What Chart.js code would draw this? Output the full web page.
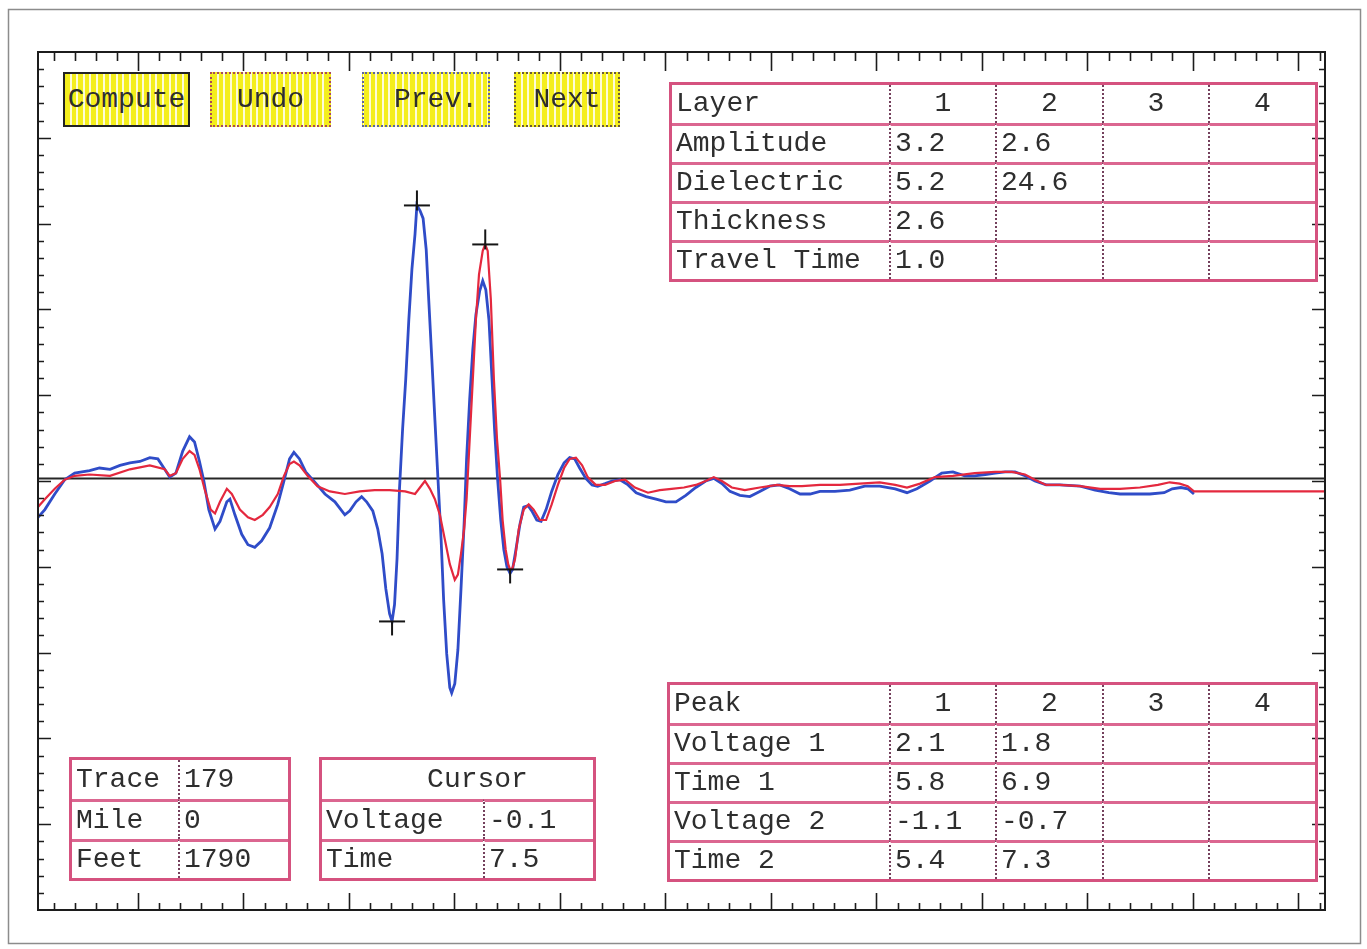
<!DOCTYPE html>
<html>
<head>
<meta charset="utf-8">
<title>Waveform analysis – Trace 179</title>
<script src="https://cdn.jsdelivr.net/npm/chart.js@4.4.1/dist/chart.umd.min.js"></script>
<style>
  html, body { margin: 0; padding: 0; background: #fff; }
  #wrap { position: relative; width: 1367px; height: 949px; overflow: hidden; }
  #plot { position: absolute; left: 0; top: 0; }
  .mono { font-family: "Liberation Mono", "DejaVu Sans Mono", monospace; font-size: 28px; color: #2e2e2e; }
  .btn {
    position: absolute; box-sizing: border-box; height: 55px; top: 72px;
    line-height: 51px; text-align: center; white-space: nowrap;
    background: repeating-linear-gradient(90deg, #f4ee1c 0 4.6px, #fdfbd8 4.6px 6.6px);
  }
  .tbl { position: absolute; box-sizing: border-box; border: 3px solid #d5527f; }
  .cell {
    position: absolute; box-sizing: border-box; white-space: nowrap; overflow: hidden;
    padding-left: 4px;
  }
  .cell.rowline { border-top: 3px solid #db6690; }
  .cell.colline { border-left: 2px dotted #74405c; }
  .cell.mid { text-align: center; padding-left: 0; }
</style>
</head>
<body>
<div id="wrap">
  <canvas id="plot" width="1367" height="949"></canvas>
</div>
<script>
// ---- Radar trace samples: [time (ns), voltage (V)] ----
const blueTrace = [
  [-0.30,-0.30],[-0.19,-0.24],[-0.03,-0.12],[0.13,-0.01],[0.29,0.04],[0.53,0.06],[0.69,0.08],[0.86,0.07],
  [1.02,0.10],[1.18,0.12],[1.34,0.13],[1.50,0.16],[1.63,0.15],[1.74,0.07],[1.82,0.01],[1.92,0.04],
  [2.03,0.21],[2.14,0.32],[2.22,0.28],[2.30,0.13],[2.37,-0.02],[2.45,-0.24],[2.55,-0.39],[2.63,-0.33],
  [2.74,-0.18],[2.79,-0.16],[2.87,-0.28],[2.98,-0.43],[3.08,-0.51],[3.19,-0.53],[3.30,-0.48],[3.43,-0.38],
  [3.56,-0.20],[3.66,-0.02],[3.75,0.15],[3.82,0.20],[3.91,0.15],[4.01,0.05],[4.16,-0.03],[4.32,-0.12],
  [4.48,-0.18],[4.64,-0.28],[4.72,-0.25],[4.82,-0.18],[4.91,-0.14],[4.99,-0.18],[5.09,-0.25],[5.17,-0.39],
  [5.24,-0.58],[5.30,-0.85],[5.36,-1.04],[5.40,-1.10],[5.44,-0.97],[5.48,-0.62],[5.52,-0.08],[5.57,0.38],
  [5.62,0.76],[5.67,1.22],[5.72,1.61],[5.77,1.88],[5.80,2.10],[5.85,2.06],[5.90,2.00],[5.95,1.76],
  [5.99,1.38],[6.04,0.92],[6.09,0.45],[6.14,-0.01],[6.19,-0.47],[6.23,-0.93],[6.28,-1.35],[6.33,-1.61],
  [6.36,-1.65],[6.41,-1.58],[6.46,-1.32],[6.51,-0.85],[6.56,-0.35],[6.60,0.15],[6.65,0.61],[6.70,0.99],
  [6.75,1.26],[6.81,1.44],[6.86,1.52],[6.91,1.45],[6.96,1.22],[7.01,0.76],[7.05,0.38],[7.10,-0.01],
  [7.15,-0.32],[7.20,-0.55],[7.25,-0.68],[7.30,-0.73],[7.34,-0.70],[7.39,-0.56],[7.46,-0.35],[7.52,-0.22],
  [7.59,-0.21],[7.65,-0.25],[7.73,-0.32],[7.80,-0.33],[7.88,-0.24],[7.97,-0.10],[8.07,0.03],[8.17,0.12],
  [8.26,0.16],[8.34,0.15],[8.42,0.08],[8.52,0.00],[8.62,-0.05],[8.71,-0.06],[8.83,-0.04],[8.94,-0.02],
  [9.07,-0.01],[9.20,-0.05],[9.33,-0.11],[9.49,-0.14],[9.65,-0.16],[9.81,-0.18],[9.97,-0.18],[10.13,-0.13],
  [10.29,-0.07],[10.45,-0.02],[10.58,0.00],[10.71,-0.04],[10.84,-0.10],[11.00,-0.13],[11.16,-0.14],[11.32,-0.10],
  [11.48,-0.06],[11.64,-0.05],[11.80,-0.08],[11.97,-0.12],[12.13,-0.12],[12.29,-0.10],[12.53,-0.10],[12.77,-0.09],
  [13.01,-0.06],[13.25,-0.06],[13.50,-0.08],[13.69,-0.11],[13.85,-0.08],[14.06,-0.02],[14.25,0.04],[14.43,0.05],
  [14.62,0.02],[14.78,0.02],[14.95,0.03],[15.11,0.04],[15.27,0.05],[15.43,0.05],[15.59,0.02],[15.75,-0.02],
  [15.93,-0.05],[16.15,-0.05],[16.48,-0.06],[16.72,-0.09],[16.94,-0.11],[17.12,-0.12],[17.36,-0.12],[17.60,-0.12],
  [17.83,-0.11],[17.96,-0.08],[18.10,-0.07],[18.21,-0.08],[18.31,-0.12]
];
const redTrace = [
  [-0.30,-0.22],[-0.19,-0.16],[-0.03,-0.08],[0.13,-0.01],[0.29,0.02],[0.53,0.03],[0.86,0.02],[1.18,0.07],
  [1.50,0.10],[1.74,0.07],[1.82,0.02],[1.92,0.04],[2.03,0.15],[2.14,0.21],[2.22,0.18],[2.30,0.07],
  [2.38,-0.08],[2.48,-0.24],[2.55,-0.27],[2.63,-0.18],[2.74,-0.08],[2.82,-0.12],[2.95,-0.24],[3.08,-0.30],
  [3.19,-0.32],[3.32,-0.28],[3.43,-0.22],[3.56,-0.12],[3.66,0.02],[3.75,0.11],[3.82,0.13],[3.91,0.10],
  [4.04,0.02],[4.20,-0.06],[4.40,-0.10],[4.64,-0.12],[4.88,-0.10],[5.12,-0.09],[5.36,-0.09],[5.61,-0.10],
  [5.77,-0.12],[5.85,-0.07],[5.93,-0.02],[6.01,-0.08],[6.09,-0.16],[6.17,-0.28],[6.25,-0.47],[6.33,-0.66],
  [6.41,-0.78],[6.46,-0.74],[6.51,-0.58],[6.56,-0.39],[6.60,-0.16],[6.65,0.30],[6.70,0.76],[6.75,1.22],
  [6.80,1.57],[6.86,1.75],[6.90,1.80],[6.94,1.75],[6.99,1.38],[7.04,0.76],[7.09,0.30],[7.14,-0.01],
  [7.18,-0.32],[7.23,-0.55],[7.27,-0.66],[7.30,-0.70],[7.34,-0.69],[7.38,-0.62],[7.44,-0.39],[7.52,-0.24],
  [7.60,-0.20],[7.68,-0.24],[7.78,-0.32],[7.88,-0.32],[7.97,-0.20],[8.07,-0.05],[8.17,0.08],[8.26,0.15],
  [8.36,0.16],[8.46,0.10],[8.55,0.01],[8.68,-0.05],[8.83,-0.05],[8.99,-0.02],[9.15,-0.01],[9.31,-0.07],
  [9.52,-0.11],[9.71,-0.09],[9.90,-0.08],[10.10,-0.07],[10.29,-0.05],[10.45,-0.02],[10.58,0.01],[10.71,-0.02],
  [10.87,-0.07],[11.08,-0.09],[11.32,-0.07],[11.60,-0.05],[11.80,-0.06],[12.00,-0.06],[12.29,-0.05],[12.61,-0.05],
  [12.93,-0.04],[13.25,-0.03],[13.50,-0.05],[13.69,-0.07],[13.90,-0.04],[14.14,0.01],[14.43,0.02],[14.78,0.04],
  [15.11,0.05],[15.38,0.05],[15.59,0.03],[15.75,-0.01],[15.93,-0.05],[16.15,-0.05],[16.48,-0.06],[16.80,-0.08],
  [17.12,-0.08],[17.44,-0.07],[17.73,-0.05],[17.92,-0.03],[18.08,-0.04],[18.21,-0.06],[18.31,-0.10],[18.41,-0.10],
  [20.42,-0.10]
];

// ---- Picked peaks ----
const peakHeader = ['Peak', '1', '2', '3', '4'];
const peakLabels = ['Voltage 1', 'Time 1', 'Voltage 2', 'Time 2'];
const peakVoltage1 = [2.1, 1.8];
const peakTime1 = [5.8, 6.9];
const peakVoltage2 = [-1.1, -0.7];
const peakTime2 = [5.4, 7.3];

// ---- Layer results ----
const layerHeader = ['Layer', '1', '2', '3', '4'];
const layerLabels = ['Amplitude', 'Dielectric', 'Thickness', 'Travel Time'];
const layerAmplitude = [3.2, 2.6];
const layerDielectric = [5.2, 24.6];
const layerThickness = [2.6];
const layerTravelTime = [1.0];

// ---- Trace position and cursor readout ----
const traceLabels = ['Trace', 'Mile', 'Feet'];
const traceValues = ['179', '0', '1790'];
const cursorLabels = ['Voltage', 'Time'];
const cursorValues = [-0.1, 7.5];

const buttonLabels = ['Compute', 'Undo', 'Prev.', 'Next'];

// ---- Axis ranges ----
const timeRange = [-0.30, 20.42];
const voltRange = [-3.32, 3.28];

// ---------------------------------------------------------------------------
const toPts = arr => arr.map(([x, y]) => ({ x, y }));
const fmt = v => v.toFixed(1);

// Cross-hair style marks for picked maxima / minima
function makeMark(kind) {
  const c = document.createElement('canvas');
  c.width = 30; c.height = 34;
  const g = c.getContext('2d');
  g.strokeStyle = '#151515';
  g.lineWidth = 2;
  g.beginPath();
  g.moveTo(2, 17); g.lineTo(28, 17);
  if (kind === 'max') { g.moveTo(15, 2); g.lineTo(15, 22); }
  else { g.moveTo(15, 17); g.lineTo(15, 31); }
  g.stroke();
  return c;
}
const maxMark = makeMark('max');
const minMark = makeMark('min');

const frameTicksX = Array.from({ length: 61 }, (_, i) => i + 1);
const frameTicksY = Array.from({ length: 49 }, (_, i) => i + 1);

const framePlugin = {
  id: 'frame',
  afterDraw(chart) {
    const { ctx, chartArea: a, scales } = chart;
    ctx.save();
    // page border
    ctx.strokeStyle = '#8c8c8c';
    ctx.lineWidth = 1.5;
    ctx.strokeRect(8.5, 9.5, 1352, 934);
    // plot frame
    ctx.strokeStyle = '#1c1c1c';
    ctx.lineWidth = 2;
    ctx.strokeRect(a.left, a.top, a.right - a.left, a.bottom - a.top);
    ctx.lineWidth = 1.6;
    ctx.beginPath();
    for (const k of frameTicksX) {
      const px = Math.round(scales.xt.getPixelForValue(k)) + 0.5;
      const major = k % 5 === 0;
      ctx.moveTo(px, a.top); ctx.lineTo(px, a.top + (major ? 19 : 9));
      ctx.moveTo(px, a.bottom); ctx.lineTo(px, a.bottom - (major ? 17 : 7));
    }
    for (const k of frameTicksY) {
      const py = Math.round(scales.yt.getPixelForValue(k)) + 0.5;
      const major = k % 5 === 0;
      ctx.moveTo(a.left, py); ctx.lineTo(a.left + (major ? 13 : 6), py);
      ctx.moveTo(a.right, py); ctx.lineTo(a.right - (major ? 13 : 6), py);
    }
    ctx.stroke();
    ctx.restore();
  }
};

new Chart(document.getElementById('plot'), {
  type: 'line',
  data: {
    datasets: [
      {
        label: 'Picked maxima',
        type: 'scatter',
        data: peakTime1.map((t, i) => ({ x: t, y: peakVoltage1[i] })),
        pointStyle: maxMark, pointRadius: 6, showLine: false, order: 0
      },
      {
        label: 'Picked minima',
        type: 'scatter',
        data: peakTime2.map((t, i) => ({ x: t, y: peakVoltage2[i] })),
        pointStyle: minMark, pointRadius: 6, showLine: false, order: 0
      },
      {
        label: 'Reference trace',
        data: toPts(redTrace),
        borderColor: '#e4283e', borderWidth: 2.2, pointRadius: 0, tension: 0, order: 1
      },
      {
        label: 'Trace 179',
        data: toPts(blueTrace),
        borderColor: '#2f4cc8', borderWidth: 2.8, pointRadius: 0, tension: 0, order: 2
      },
      {
        label: 'Zero',
        data: [{ x: timeRange[0], y: 0 }, { x: timeRange[1], y: 0 }],
        borderColor: '#262626', borderWidth: 2, pointRadius: 0, order: 3
      }
    ]
  },
  options: {
    responsive: false,
    animation: false,
    devicePixelRatio: 1,
    events: [],
    layout: { padding: { left: 38, right: 42, top: 52, bottom: 39 } },
    plugins: { legend: { display: false }, tooltip: { enabled: false } },
    scales: {
      x: { type: 'linear', min: timeRange[0], max: timeRange[1], display: false },
      y: { type: 'linear', min: voltRange[0], max: voltRange[1], display: false },
      xt: { type: 'linear', position: 'top', min: 0.26, max: 61.26, display: false },
      yt: { type: 'linear', position: 'right', min: 0, max: 50, display: false }
    }
  },
  plugins: [framePlugin]
});

// ---- Buttons ----
const wrap = document.getElementById('wrap');
const buttonBoxes = [
  { left: 63, width: 127, border: '2px solid #222', indent: 0 },
  { left: 210, width: 121, border: '2px dotted #a84a5a', indent: 0 },
  { left: 362, width: 128, border: '2px dotted #5c64a0', indent: 20 },
  { left: 514, width: 106, border: '2px dotted #6a5a3a', indent: 0 }
];
buttonLabels.forEach((label, i) => {
  const b = document.createElement('div');
  const s = buttonBoxes[i];
  b.className = 'btn mono';
  b.style.left = s.left + 'px';
  b.style.width = s.width + 'px';
  b.style.border = s.border;
  b.style.paddingLeft = s.indent + 'px';
  b.textContent = label;
  wrap.appendChild(b);
});

// ---- Tables ----
function makeTable(left, top, colW, rowH, rows) {
  const box = document.createElement('div');
  box.className = 'tbl mono';
  const W = colW.reduce((s, v) => s + v, 0);
  const H = rowH.reduce((s, v) => s + v, 0);
  box.style.left = left + 'px';
  box.style.top = top + 'px';
  box.style.width = (W + 6) + 'px';
  box.style.height = (H + 6) + 'px';
  let y = 0;
  rows.forEach((row, r) => {
    let c = 0, x = 0;
    row.forEach(cell => {
      const span = cell.span || 1;
      const w = colW.slice(c, c + span).reduce((s, v) => s + v, 0);
      const d = document.createElement('div');
      d.className = 'cell' + (r > 0 ? ' rowline' : '') + (c > 0 ? ' colline' : '') + (cell.mid ? ' mid' : '');
      d.style.left = x + 'px';
      d.style.top = y + 'px';
      d.style.width = w + 'px';
      d.style.height = rowH[r] + 'px';
      d.style.lineHeight = (rowH[r] - (r > 0 ? 3 : 0)) + 'px';
      if (cell.indent) d.style.paddingLeft = cell.indent + 'px';
      d.textContent = cell.t;
      box.appendChild(d);
      x += w; c += span;
    });
    y += rowH[r];
  });
  wrap.appendChild(box);
}
const fillRow = (label, vals) => [{ t: label }].concat([0, 1, 2, 3].map(i => ({ t: vals[i] !== undefined ? fmt(vals[i]) : '' })));
const headRow = h => [{ t: h[0] }].concat(h.slice(1).map(t => ({ t, mid: true })));

makeTable(669, 82, [217, 106, 107, 106, 107], [38, 39, 39, 39, 39], [
  headRow(layerHeader),
  fillRow(layerLabels[0], layerAmplitude),
  fillRow(layerLabels[1], layerDielectric),
  fillRow(layerLabels[2], layerThickness),
  fillRow(layerLabels[3], layerTravelTime)
]);

makeTable(667, 682, [219, 106, 107, 106, 107], [38, 39, 39, 39, 39], [
  headRow(peakHeader),
  fillRow(peakLabels[0], peakVoltage1),
  fillRow(peakLabels[1], peakTime1),
  fillRow(peakLabels[2], peakVoltage2),
  fillRow(peakLabels[3], peakTime2)
]);

makeTable(69, 757, [106, 110], [39, 40, 39],
  traceLabels.map((l, i) => [{ t: l }, { t: traceValues[i] }]));

makeTable(319, 757, [161, 110], [39, 40, 39], [
  [{ t: 'Cursor', span: 2, mid: true, indent: 40 }],
  [{ t: cursorLabels[0] }, { t: fmt(cursorValues[0]) }],
  [{ t: cursorLabels[1] }, { t: fmt(cursorValues[1]) }]
]);
</script>
</body>
</html>
